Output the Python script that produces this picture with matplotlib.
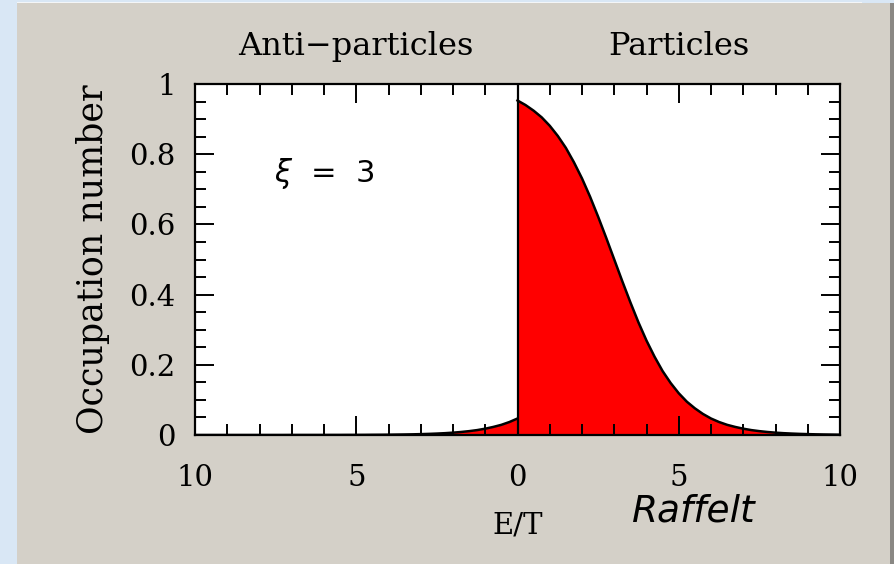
import numpy as np
import matplotlib
matplotlib.use("Agg")
import matplotlib.pyplot as plt
from matplotlib.patches import Rectangle
from matplotlib.ticker import MultipleLocator, FuncFormatter

# Energy grid in units of E/T
energy = np.arange(0, 10.01, 0.25)

# Occupation numbers of particles (chemical potential xi = 3)
particles = [0.953, 0.940, 0.924, 0.905, 0.881, 0.852, 0.818, 0.777, 0.731,
             0.679, 0.622, 0.562, 0.500, 0.438, 0.378, 0.321, 0.269, 0.223,
             0.182, 0.148, 0.119, 0.095, 0.076, 0.060, 0.047, 0.037, 0.029,
             0.023, 0.018, 0.014, 0.011, 0.0086, 0.0067, 0.0052, 0.0041,
             0.0032, 0.0025, 0.0019, 0.0015, 0.0012, 0.0009]

# Occupation numbers of anti-particles
antiparticles = [0.047, 0.037, 0.029, 0.023, 0.018, 0.014, 0.011, 0.0086,
                 0.0067, 0.0052, 0.0041, 0.0032, 0.0025, 0.0019, 0.0015,
                 0.0012, 0.0009, 0.0007, 0.0006, 0.0004, 0.0003, 0.0003,
                 0.0002, 0.0002, 0.0001, 0.0001, 0.0001, 0.0001, 0.0001,
                 0.0, 0.0, 0.0, 0.0, 0.0, 0.0, 0.0, 0.0, 0.0, 0.0, 0.0, 0.0]

xi_label = r"$\xi$  =  3"
side_labels = ["Anti\u2212particles", "Particles"]

W, H = 894, 564
plt.rcParams["mathtext.fontset"] = "dejavusans"
fig = plt.figure(figsize=(W / 100, H / 100), dpi=100, facecolor="#d9e7f5")

# grey panel behind the plot
for rect in [
    Rectangle((17 / W, 0), (891 - 17) / W, (H - 3) / H, facecolor="#d4d0c8"),
    Rectangle((17 / W, (H - 3) / H), (862 - 17) / W, 1.2 / H, facecolor="#f4f6f8"),
    Rectangle((890 / W, 0), 4 / W, (H - 3) / H, facecolor="#8a8884"),
]:
    rect.set_transform(fig.transFigure)
    rect.set_edgecolor("none")
    rect.set_zorder(-10)
    fig.patches.append(rect)

ax = fig.add_axes([195 / W, 1 - 435 / H, (840 - 195) / W, (435 - 84) / H])
ax.set_facecolor("white")

font = "DejaVu Serif"

e_part = energy
e_anti = -energy
ax.fill_between(e_part, 0, particles, color="#ff0000", lw=0, zorder=1)
ax.fill_between(e_anti, 0, antiparticles, color="#ff0000", lw=0, zorder=1)
ax.plot(e_part, particles, color="black", lw=1.8, zorder=3)
ax.plot(e_anti, antiparticles, color="black", lw=1.8, zorder=3)
ax.axvline(0, color="black", lw=1.6, zorder=4)

ax.set_xlim(-10, 10)
ax.set_ylim(0, 1)

ax.xaxis.set_major_locator(MultipleLocator(5))
ax.xaxis.set_minor_locator(MultipleLocator(1))
ax.yaxis.set_major_locator(MultipleLocator(0.2))
ax.yaxis.set_minor_locator(MultipleLocator(0.05))
ax.xaxis.set_major_formatter(FuncFormatter(lambda v, p: f"{abs(v):g}"))
ax.yaxis.set_major_formatter(FuncFormatter(lambda v, p: f"{v:g}"))

ax.tick_params(which="both", direction="in", top=True, right=True,
               width=1.4, colors="black")
ax.tick_params(which="major", length=14)
ax.tick_params(which="minor", length=8)
ax.tick_params(axis="x", which="major", pad=21, labelsize=21)
ax.tick_params(axis="y", which="major", pad=14, labelsize=21)
for lab in ax.get_xticklabels() + ax.get_yticklabels():
    lab.set_fontfamily(font)

for s in ax.spines.values():
    s.set_linewidth(1.6)
    s.set_zorder(5)

ax.set_ylabel("Occupation number", fontfamily=font, fontsize=25, labelpad=14)
ax.set_xlabel("E/T", fontfamily=font, fontsize=21, labelpad=14)

ax.text(-5, 1.083, side_labels[0], ha="center", va="baseline",
        fontfamily=font, fontsize=23, transform=ax.get_xaxis_transform())
ax.text(5, 1.083, side_labels[1], ha="center", va="baseline",
        fontfamily=font, fontsize=23, transform=ax.get_xaxis_transform())

ax.text(-7.55, 0.72, xi_label, ha="left", va="baseline", fontsize=22,
        fontfamily="DejaVu Sans")

fig.text(632 / W, 1 - 522 / H, "Raffelt", ha="left", va="baseline",
         fontsize=27, fontstyle="italic", fontfamily="DejaVu Sans",
         fontweight="light")

fig.savefig("out.png", dpi=100, facecolor=fig.get_facecolor())
